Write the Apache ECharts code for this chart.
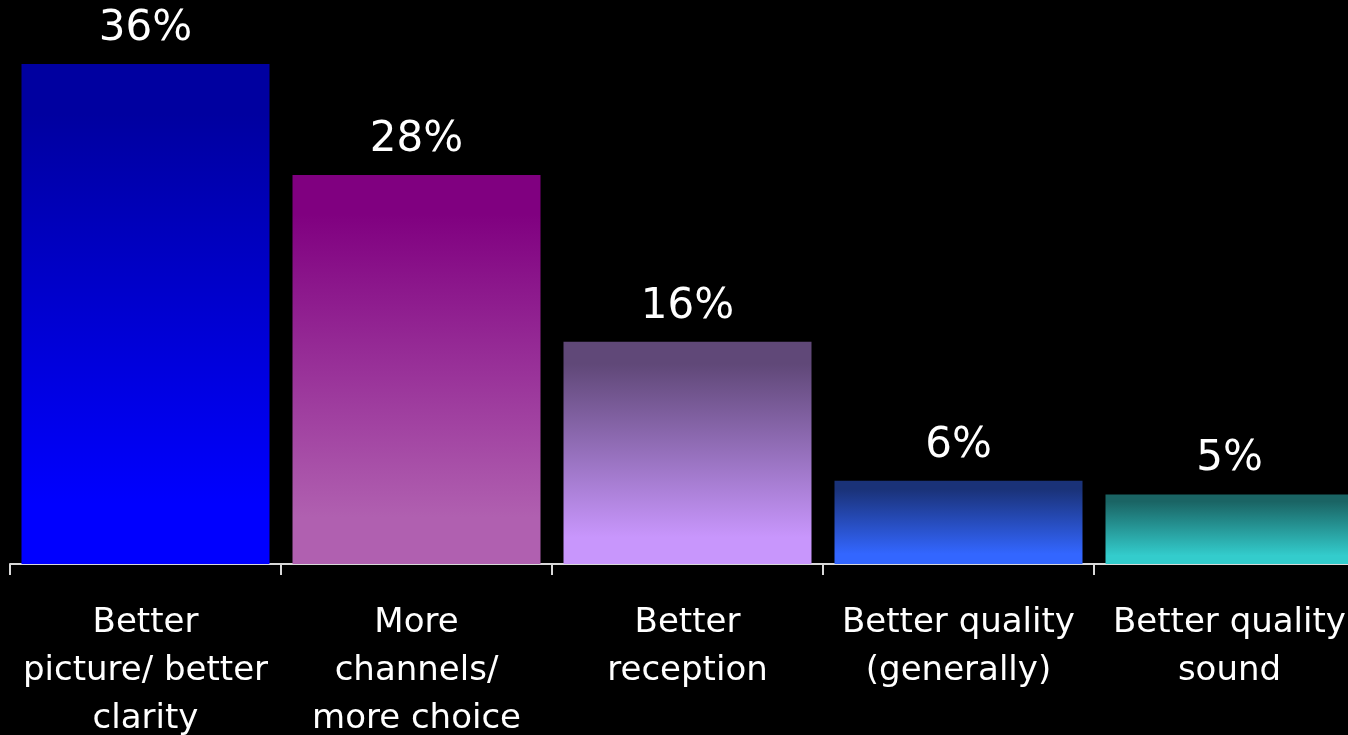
<!DOCTYPE html>
<html>
<head>
<meta charset="utf-8">
<script src="https://cdn.jsdelivr.net/npm/echarts@6/dist/echarts.min.js"></script>
<style>
html,body{margin:0;padding:0;background:#000;}
#chart{width:1348px;height:735px;}
</style>
</head>
<body>
<div id="chart"></div>
<script>
var categories = ['Better\npicture/ better\nclarity', 'More\nchannels/\nmore choice', 'Better\nreception', 'Better quality\n(generally)', 'Better quality\nsound'];
var values = [36, 28, 16, 6, 5];
var topColors = ['#0000A0', '#800080', '#604878', '#1A3278', '#1A6464'];
var bottomColors = ['#0000FF', '#B060B0', '#C896FC', '#3366FF', '#33CCCC'];

var chart = echarts.init(document.getElementById('chart'));
var data = values.map(function (v, i) {
  return {
    value: v,
    itemStyle: {
      color: new echarts.graphic.LinearGradient(0, 0, 0, 1, [
        { offset: 0, color: topColors[i] },
        { offset: 0.1, color: topColors[i] },
        { offset: 0.88, color: bottomColors[i] },
        { offset: 1, color: bottomColors[i] }
      ])
    }
  };
});
chart.setOption({
  backgroundColor: '#000',
  animation: false,
  grid: { left: 10, top: 64, width: 1355, height: 500, containLabel: false, outerBoundsMode: 'none' },
  xAxis: {
    type: 'category',
    data: categories,
    axisLine: { show: true, lineStyle: { color: '#d9d9d9', width: 2 } },
    axisTick: { show: true, length: 11, lineStyle: { color: '#d9d9d9', width: 2 } },
    axisLabel: {
      color: '#fff', fontSize: 34, lineHeight: 48, margin: 35, interval: 0,
      fontFamily: 'DejaVu Sans', verticalAlign: 'top'
    }
  },
  yAxis: { type: 'value', min: 0, max: 36, show: false, splitLine: { show: false } },
  series: [{
    type: 'bar',
    data: data,
    barWidth: 248,
    label: {
      show: true, position: 'top', distance: 14,
      formatter: '{c}%', color: '#fff', fontSize: 42, fontFamily: 'DejaVu Sans'
    }
  }]
});
</script>
</body>
</html>
